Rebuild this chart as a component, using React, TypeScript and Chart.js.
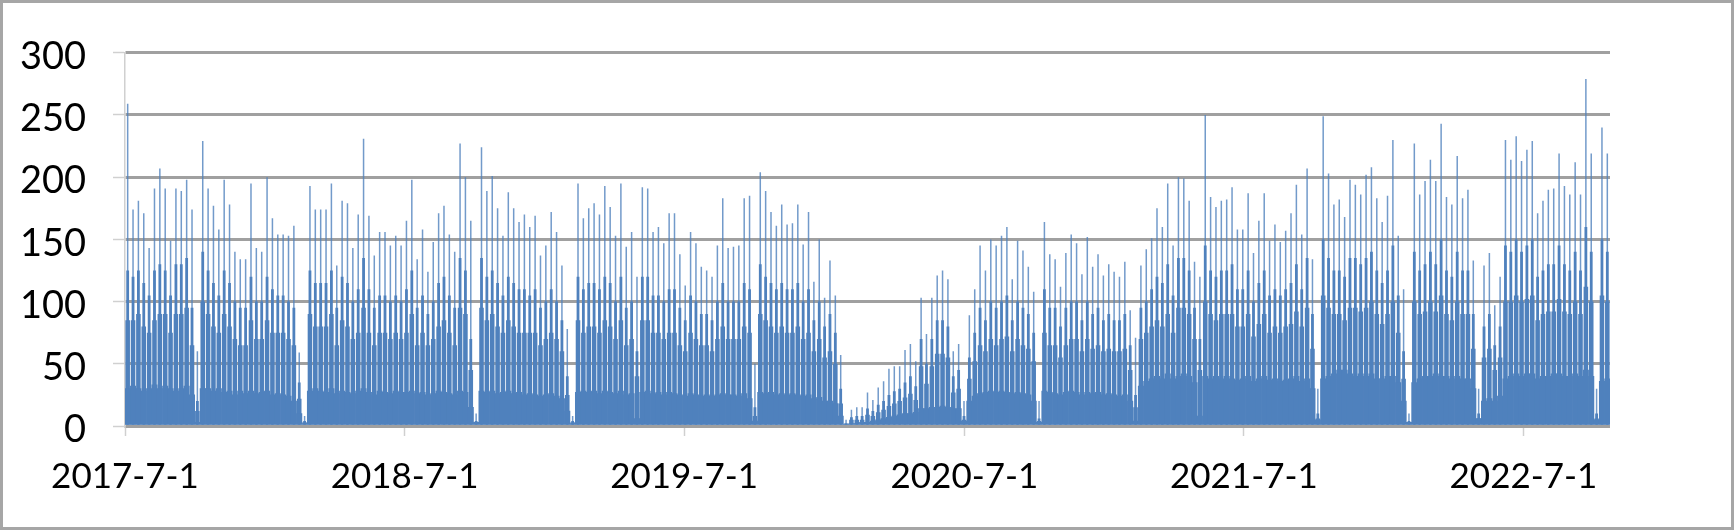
import React, { useEffect, useRef } from 'react';
import { Chart, registerables } from 'chart.js';

Chart.register(...registerables);

// x-axis tick labels and their day offsets from 2017-7-1
const xTickLabels = ['2017-7-1', '2018-7-1', '2019-7-1', '2020-7-1', '2021-7-1', '2022-7-1'];
const xTickDays = [0, 365, 730, 1096, 1461, 1826];
const yMax = 300;
const yStep = 50;

// weekly peak (highest daily value of the week)
const peakY1 = [259, 174, 181, 171, 143, 191, 207, 191, 149, 191, 189, 198, 174, 60, 229, 191, 177, 158, 198, 178, 140, 134, 134, 195, 143, 140, 200, 167, 154, 154, 153, 161, 59, 8, 193, 174, 174, 174, 195, 129, 181, 179, 143, 170, 231, 169, 137, 156, 156, 145, 153, 145];
const peakY2 = [165, 198, 134, 158, 124, 148, 171, 177, 154, 140, 227, 200, 165, 10, 224, 189, 201, 175, 153, 188, 175, 164, 170, 160, 169, 137, 145, 172, 156, 129, 78, 8, 195, 167, 175, 179, 170, 193, 176, 153, 195, 144, 156, 120, 192, 191, 156, 160, 147, 171, 171, 138];
const peakY3 = [113, 156, 147, 128, 125, 120, 145, 183, 143, 144, 145, 183, 185, 50, 204, 189, 172, 161, 178, 162, 163, 178, 146, 172, 116, 150, 103, 133, 105, 57, 5, 13, 15, 15, 27, 21, 31, 36, 46, 48, 48, 61, 66, 52, 103, 74, 103, 121, 125, 118, 60, 66];
const peakY4 = [20, 89, 110, 145, 125, 150, 145, 153, 160, 118, 149, 141, 128, 108, 20, 164, 138, 134, 112, 139, 154, 147, 122, 152, 128, 138, 121, 130, 124, 120, 132, 93, 71, 129, 142, 151, 175, 160, 195, 145, 200, 199, 181, 132, 120, 250, 184, 176, 181, 182, 192, 158];
const peakY5 = [158, 187, 139, 165, 187, 149, 162, 148, 157, 171, 194, 154, 207, 134, 30, 249, 203, 178, 182, 168, 198, 194, 186, 202, 208, 183, 164, 185, 230, 153, 110, 10, 227, 186, 197, 214, 197, 243, 184, 178, 217, 183, 190, 133, 30, 129, 139, 97, 120, 230, 214, 233];
const peakY6 = [213, 222, 229, 171, 181, 190, 191, 219, 193, 186, 212, 186, 279, 219, 30, 240, 219];

// weekly upper weekday level
const highY1 = [125, 120, 125, 115, 105, 125, 130, 125, 105, 130, 130, 135, 95, 20, 140, 125, 115, 105, 125, 115, 100, 95, 95, 120, 100, 100, 120, 110, 105, 105, 100, 95, 35, 4, 125, 115, 115, 115, 125, 95, 120, 115, 100, 110, 135, 110, 95, 105, 105, 100, 105, 100];
const highY2 = [110, 125, 95, 105, 90, 100, 115, 120, 105, 95, 135, 125, 70, 4, 135, 120, 125, 115, 105, 120, 115, 110, 110, 105, 110, 95, 100, 110, 100, 85, 40, 4, 120, 110, 115, 115, 110, 120, 115, 100, 120, 95, 100, 60, 120, 120, 105, 105, 100, 110, 110, 95];
const highY3 = [85, 105, 100, 90, 90, 85, 100, 115, 100, 100, 100, 115, 110, 15, 130, 120, 115, 110, 115, 110, 110, 115, 100, 110, 85, 100, 80, 90, 75, 30, 2, 7, 8, 8, 14, 12, 17, 20, 25, 28, 30, 35, 40, 32, 70, 50, 70, 85, 85, 80, 40, 45];
const highY4 = [8, 55, 75, 95, 85, 100, 95, 100, 105, 85, 100, 95, 90, 75, 6, 110, 95, 95, 80, 95, 100, 100, 85, 100, 90, 95, 85, 90, 85, 85, 90, 65, 25, 95, 100, 110, 120, 115, 130, 105, 135, 135, 125, 95, 70, 145, 125, 120, 125, 125, 130, 110];
const highY5 = [110, 125, 100, 115, 125, 105, 110, 105, 110, 115, 130, 110, 135, 90, 10, 150, 135, 125, 125, 120, 135, 135, 130, 135, 140, 125, 115, 125, 145, 105, 60, 4, 140, 125, 130, 140, 130, 150, 125, 120, 140, 125, 125, 90, 10, 80, 90, 65, 80, 145, 140, 150];
const highY6 = [140, 145, 150, 120, 125, 130, 130, 145, 130, 125, 140, 125, 160, 140, 10, 150, 140];

// weekly core (most weekdays) level
const coreY1 = [85, 85, 90, 80, 75, 85, 90, 90, 75, 90, 90, 95, 65, 12, 100, 90, 80, 75, 90, 80, 70, 65, 65, 85, 70, 70, 85, 75, 75, 75, 70, 65, 22, 3, 90, 80, 80, 80, 90, 65, 85, 80, 70, 75, 95, 75, 65, 75, 75, 70, 75, 70];
const coreY2 = [75, 90, 65, 75, 65, 70, 80, 85, 75, 65, 95, 90, 45, 3, 95, 85, 90, 80, 75, 85, 80, 75, 75, 75, 75, 65, 70, 75, 70, 60, 25, 3, 85, 75, 80, 80, 75, 85, 80, 70, 85, 65, 70, 40, 85, 85, 75, 75, 70, 75, 75, 65];
const coreY3 = [60, 75, 70, 65, 65, 60, 70, 80, 70, 70, 70, 80, 75, 8, 90, 85, 80, 75, 80, 75, 75, 80, 70, 75, 60, 70, 55, 60, 50, 18, 2, 5, 5, 5, 9, 8, 11, 13, 16, 18, 20, 23, 26, 21, 48, 34, 48, 58, 58, 55, 27, 30];
const coreY4 = [5, 38, 52, 65, 60, 70, 65, 70, 72, 60, 70, 65, 62, 52, 4, 75, 65, 65, 55, 65, 70, 70, 60, 70, 62, 65, 60, 62, 60, 60, 62, 45, 15, 70, 75, 80, 85, 80, 90, 75, 95, 95, 90, 70, 45, 100, 90, 85, 90, 90, 90, 80];
const coreY5 = [80, 90, 72, 82, 90, 75, 80, 75, 80, 82, 92, 80, 95, 62, 6, 105, 95, 90, 90, 85, 95, 95, 92, 95, 100, 90, 82, 90, 100, 75, 38, 3, 100, 90, 92, 100, 92, 105, 90, 85, 100, 90, 90, 62, 6, 55, 62, 45, 55, 100, 100, 105];
const coreY6 = [100, 102, 105, 85, 90, 92, 92, 102, 92, 90, 100, 90, 112, 100, 6, 105, 100];

// weekly weekend / holiday level
const lowY1 = [30, 32, 30, 28, 30, 33, 30, 32, 30, 28, 30, 32, 25, 3, 30, 30, 28, 30, 27, 28, 25, 28, 26, 28, 26, 27, 28, 25, 26, 25, 24, 20, 10, 2, 28, 30, 28, 27, 30, 26, 28, 27, 26, 28, 30, 27, 25, 28, 27, 26, 28, 27];
const lowY2 = [27, 28, 26, 27, 25, 26, 28, 27, 26, 25, 28, 27, 15, 3, 28, 27, 28, 26, 27, 28, 26, 27, 25, 26, 25, 24, 25, 26, 24, 22, 12, 2, 27, 28, 27, 28, 26, 28, 27, 26, 28, 25, 26, 6, 27, 28, 26, 27, 25, 27, 26, 25];
const lowY3 = [24, 26, 25, 24, 25, 24, 25, 26, 25, 25, 24, 26, 22, 4, 27, 26, 27, 25, 26, 25, 26, 25, 24, 25, 22, 23, 20, 20, 18, 8, 1, 2, 2, 3, 3, 4, 5, 6, 7, 8, 9, 10, 10, 11, 14, 14, 15, 15, 16, 15, 14, 14];
const lowY4 = [4, 20, 24, 26, 27, 28, 27, 28, 27, 26, 27, 26, 25, 20, 3, 28, 27, 26, 25, 27, 28, 27, 25, 27, 26, 27, 25, 26, 25, 24, 25, 20, 4, 32, 36, 38, 40, 38, 42, 38, 40, 42, 40, 35, 8, 40, 38, 40, 38, 40, 38, 37];
const lowY5 = [38, 40, 36, 38, 40, 37, 38, 36, 37, 38, 40, 36, 38, 30, 5, 38, 40, 42, 45, 45, 42, 40, 42, 40, 42, 38, 38, 40, 40, 35, 20, 3, 35, 38, 40, 40, 42, 40, 40, 38, 40, 38, 38, 30, 6, 20, 22, 20, 24, 38, 40, 42];
const lowY6 = [40, 42, 42, 38, 40, 40, 42, 42, 40, 40, 42, 40, 45, 40, 5, 36, 38];

const weekPeak = [...peakY1, ...peakY2, ...peakY3, ...peakY4, ...peakY5, ...peakY6];
const weekHigh = [...highY1, ...highY2, ...highY3, ...highY4, ...highY5, ...highY6];
const weekCore = [...coreY1, ...coreY2, ...coreY3, ...coreY4, ...coreY5, ...coreY6];
const weekLow = [...lowY1, ...lowY2, ...lowY3, ...lowY4, ...lowY5, ...lowY6];
const weekLabels = weekPeak.map((_, i) => 'W' + (i + 1));
const totalDays = weekLabels.length * 7;

const FONT = 'Lato, "Open Sans", "Noto Sans", sans-serif';
const BLUE = '#4f81bd';

export default function App() {
  const canvasRef = useRef<HTMLCanvasElement | null>(null);

  useEffect(() => {
    document.body.style.margin = '0';
    const canvas = canvasRef.current;
    if (!canvas) return;
    const hiddenCat = {
      type: 'category' as const,
      labels: weekLabels,
      display: false,
      offset: true,
      grid: { display: false },
    };
    const layer = (label: string, data: number[], axis: string, pct: number, color: string, maxT?: number) => ({
      label,
      data,
      xAxisID: axis,
      yAxisID: 'y',
      backgroundColor: color,
      borderWidth: 0,
      grouped: false,
      barPercentage: pct,
      categoryPercentage: 1,
      ...(maxT ? { maxBarThickness: maxT } : {}),
    });
    const chart = new Chart(canvas, {
      type: 'bar',
      data: {
        labels: weekLabels,
        datasets: [
          layer('low', weekLow, 'xb', 1, BLUE),
          layer('core', weekCore, 'xc', 0.85, BLUE),
          layer('high', weekHigh, 'xh', 0.52, BLUE),
          layer('peak', weekPeak, 'xp', 0.3, 'rgba(79,129,189,0.8)', 1.5),
        ] as any,
      },
      options: {
        responsive: false,
        maintainAspectRatio: false,
        animation: false,
        layout: { padding: { left: 0, right: 121, top: 45, bottom: 0 } },
        plugins: {
          legend: { display: false },
          tooltip: { enabled: false },
        },
        scales: {
          xb: { ...hiddenCat },
          xc: { ...hiddenCat },
          xh: { ...hiddenCat },
          xp: { ...hiddenCat },
          x: {
            type: 'linear',
            position: 'bottom',
            min: 0,
            max: totalDays,
            offset: false,
            afterBuildTicks: (scale: any) => {
              scale.ticks = xTickDays.map((v) => ({ value: v }));
            },
            afterFit: (scale: any) => {
              scale.height = 101;
            },
            ticks: {
              autoSkip: false,
              maxRotation: 0,
              minRotation: 0,
              padding: 20,
              color: '#000',
              font: { family: FONT, size: 35 },
              callback: (value: any) => {
                const i = xTickDays.indexOf(Number(value));
                return i >= 0 ? xTickLabels[i] : '';
              },
            },
            grid: {
              offset: false,
              drawOnChartArea: false,
              drawTicks: true,
              tickLength: 10,
              tickColor: '#d0d0d0',
              tickWidth: 1.5,
            },
            border: { display: false },
          },
          y: {
            type: 'linear',
            position: 'left',
            min: 0,
            max: yMax,
            z: 1,
            afterFit: (scale: any) => {
              scale.width = 122;
            },
            ticks: {
              stepSize: yStep,
              padding: 27,
              labelOffset: 4,
              color: '#000',
              font: { family: FONT, size: 38 },
            },
            grid: {
              color: '#a0a0a0',
              lineWidth: 3,
              drawTicks: true,
              tickLength: 12,
              tickColor: '#d0d0d0',
              tickWidth: 1.5,
            },
            border: { display: true, color: '#d0d0d0', width: 1.5 },
          },
        } as any,
      },
    });
    return () => chart.destroy();
  }, []);

  return (
    <div
      style={{
        width: 1734,
        height: 530,
        boxSizing: 'border-box',
        border: '3px solid #a6a6a6',
        background: '#fff',
      }}
    >
      <canvas ref={canvasRef} width={1728} height={524} style={{ display: 'block', width: 1728, height: 524 }} />
    </div>
  );
}
